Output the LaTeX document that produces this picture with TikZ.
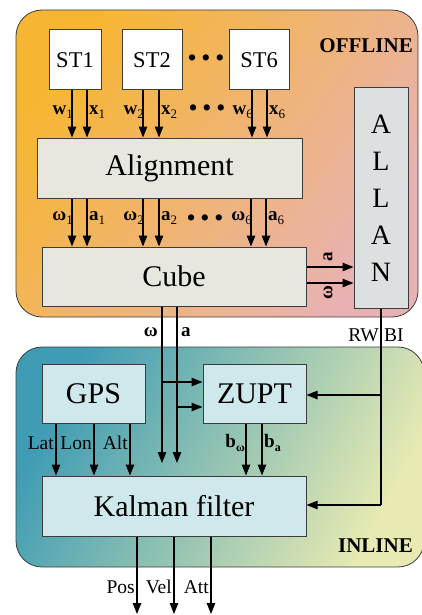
\documentclass[tikz,border=0pt]{standalone}
\usepackage{fontspec}
\setmainfont{LiberationSerif}[Extension=.ttf, UprightFont=*-Regular, BoldFont=*-Bold, ItalicFont=*-Italic, BoldItalicFont=*-BoldItalic]
\usetikzlibrary{arrows.meta}
\definecolor{offA}{RGB}{247,182,50}
\definecolor{offB}{RGB}{232,178,180}
\definecolor{inA}{RGB}{62,156,180}
\definecolor{inB}{RGB}{232,234,178}
\definecolor{bordc}{RGB}{60,60,60}
\definecolor{grayfill}{RGB}{231,231,224}
\definecolor{allanfill}{RGB}{220,224,224}
\definecolor{bluefill}{RGB}{206,232,236}
\newcommand\sbx[2]{#1\raisebox{-0.45ex}{\fontsize{13}{13}\selectfont\mdseries #2}}
\newcommand\sbb[2]{#1\raisebox{-0.45ex}{\fontsize{12}{12}\selectfont #2}}
\begin{document}
\begin{tikzpicture}[x=1pt,y=-1pt,
  box/.style={draw=bordc, line width=1pt, inner sep=0pt, font=\fontsize{30}{30}\selectfont},
  stbox/.style={box, fill=white, minimum height=60pt, font=\fontsize{22.5}{22.5}\selectfont},
  graybox/.style={box, fill=grayfill},
  bluebox/.style={box, fill=bluefill},
  arr/.style={line width=1.1pt, -{Triangle[length=11pt,width=8.5pt]}},
  ln/.style={line width=1.1pt},
  lab/.style={inner sep=0pt, font=\fontsize{19}{19}\selectfont\bfseries},
  txt/.style={inner sep=0pt, font=\fontsize{19.5}{19.5}\selectfont},
  dots/.style={inner sep=0pt, font=\fontsize{23}{23}\selectfont\bfseries},
  zone/.style={inner sep=0pt, font=\fontsize{21}{21}\selectfont\bfseries}]
\useasboundingbox (0,0) rectangle (422,615);
% background zones
\shadedraw[draw=bordc, line width=0.8pt, rounded corners=26pt, top color=offA, bottom color=offB, shading angle=55]
  (16,10) rectangle (418,317);
\shadedraw[draw=bordc, line width=0.8pt, rounded corners=26pt, top color=inA, bottom color=inB, shading angle=62]
  (16,347) rectangle (424,567);
\node[zone, anchor=east] (off) at (413,46) {OFFLINE};
\node[zone, anchor=east] (inl) at (413,546) {INLINE};
% offline nodes
\node[stbox, minimum width=52pt] (ST1) at (75,60) {ST1};
\node[stbox, minimum width=60pt] (ST2) at (152,60) {ST2};
\node[stbox, minimum width=60pt] (ST6) at (259,60) {ST6};
\node[dots] (d1) at (206,60) {• • •};
\node[graybox, minimum width=265pt, minimum height=60pt] (Al) at (169.5,168) {Alignment};
\node[graybox, minimum width=264pt, minimum height=59pt] (Cu) at (174,276.5) {Cube};
\node[box, fill=allanfill, minimum width=54pt, minimum height=220pt, align=center,
  font=\fontsize{28}{37}\selectfont] (AL) at (381,198) {A\\L\\L\\A\\N};
% ST -> Alignment
\foreach \xx in {72,87,143,159,252,267}
  \draw[arr] (ST1.south -| \xx,0) -- (Al.north -| \xx,0);
\node[lab, anchor=east] (w1) at (73,112) {\sbx{w}{1}};
\node[lab, anchor=west] (x1) at (89,112) {\sbx{x}{1}};
\node[lab, anchor=east] (w2) at (144,112) {\sbx{w}{2}};
\node[lab, anchor=west] (x2) at (161,112) {\sbx{x}{2}};
\node[lab, anchor=east] (w6) at (253,112) {\sbx{w}{6}};
\node[lab, anchor=west] (x6) at (269,112) {\sbx{x}{6}};
\node[dots] (d2) at (207,110) {• • •};
% Alignment -> Cube
\foreach \xx in {72,87,143,159,251,266}
  \draw[arr] (Al.south -| \xx,0) -- (Cu.north -| \xx,0);
\node[lab, anchor=east] (o1) at (73,218) {\sbx{ω}{1}};
\node[lab, anchor=west] (a1) at (89,218) {\sbx{a}{1}};
\node[lab, anchor=east] (o2) at (144,218) {\sbx{ω}{2}};
\node[lab, anchor=west] (a2) at (161,218) {\sbx{a}{2}};
\node[lab, anchor=east] (o6) at (252,218) {\sbx{ω}{6}};
\node[lab, anchor=west] (a6) at (268,218) {\sbx{a}{6}};
\node[dots] (d3) at (205,220) {• • •};
% Cube -> ALLAN
\draw[arr] (Cu.east |- 0,267) -- (AL.west |- 0,267);
\draw[arr] (Cu.east |- 0,283) -- (AL.west |- 0,283);
\node[lab, rotate=90] (ra) at (328,257) {a};
\node[lab, rotate=90] (ro) at (328,293) {ω};
% inline nodes
\node[bluebox, minimum width=103pt, minimum height=59pt] (GPS) at (93.5,393.5) {GPS};
\node[bluebox, minimum width=103pt, minimum height=59pt] (ZU) at (254.5,393.5) {ZUPT};
\node[bluebox, minimum width=264pt, minimum height=60pt] (KF) at (174,506) {Kalman filter};
% omega / a from cube
\coordinate (oend) at (162,463);
\coordinate (aend) at (177,463);
\draw[arr] (Cu.south -| oend) -- (oend);
\draw[arr] (Cu.south -| aend) -- (aend);
\node[lab, anchor=east] (lo) at (158,332) {ω};
\node[lab, anchor=west] (la) at (181,332) {a};
\draw[arr] (162,382) -- (ZU.west |- 0,382);
\draw[arr] (177,407) -- (ZU.west |- 0,407);
% ALLAN -> ZUPT, Kalman
\coordinate (ac) at (381,505);
\draw[ln] (AL.south) -- (ac);
\draw[arr] (381,395) -- (ZU.east |- 0,395);
\draw[arr] (ac) -- (KF.east |- ac);
\node[txt, anchor=east] (rw) at (379,335) {RW};
\node[txt, anchor=west] (bi) at (384,335) {BI};
% GPS -> Kalman
\foreach \xx in {56,94,130}
  \draw[arr] (GPS.south -| \xx,0) -- (KF.north -| \xx,0);
\node[txt, anchor=east] (lat) at (54,443) {Lat};
\node[txt, anchor=east] (lon) at (92,443) {Lon};
\node[txt, anchor=east] (alt) at (128,443) {Alt};
% ZUPT -> Kalman
\foreach \xx in {246,262}
  \draw[arr] (ZU.south -| \xx,0) -- (KF.north -| \xx,0);
\node[lab, anchor=east] (bo) at (245,443) {\sbb{b}{ω}};
\node[lab, anchor=west] (ba) at (264,443) {\sbb{b}{a}};
% outputs
\foreach \xx in {137,174,211}
  \draw[arr] (KF.south -| \xx,0) -- (\xx,614);
\node[txt, anchor=east] (pos) at (135,587) {Pos};
\node[txt, anchor=east] (vel) at (172,587) {Vel};
\node[txt, anchor=east] (att) at (209,587) {Att};
\end{tikzpicture}
\end{document}
